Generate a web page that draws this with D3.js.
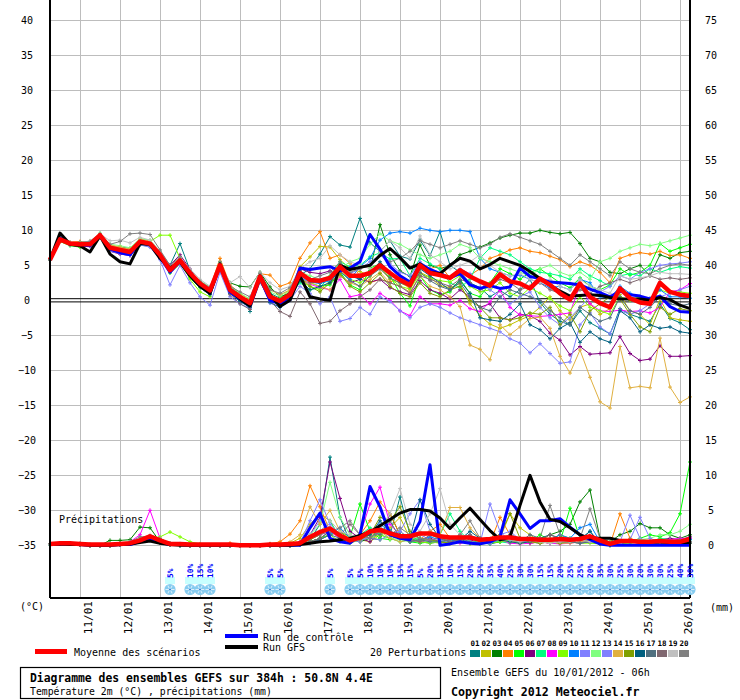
<!DOCTYPE html>
<html>
<head>
<meta charset="utf-8">
<script src="https://cdn.jsdelivr.net/npm/d3@7/dist/d3.min.js"></script>
<style>
body { margin: 0; background: #fff; }
svg text { font-family: "DejaVu Sans Mono", monospace; fill: #000; }
</style>
</head>
<body>
<svg id="chart" width="740" height="700"></svg>
<script>
// run steps : every 6h from 10/01 06h up to +384h
var steps = d3.range(0, 385, 6);
var dateLabels = ["11/01","12/01","13/01","14/01","15/01","16/01","17/01","18/01",
                  "19/01","20/01","21/01","22/01","23/01","24/01","25/01","26/01"];
var tempTicks = [-35,-30,-25,-20,-15,-10,-5,0,5,10,15,20,25,30,35,40];
var precipTicks = [0,5,10,15,20,25,30,35,40,45,50,55,60,65,70,75];

// temperature 2m (°C)
var tMean = [5.8,8.7,8.1,8.0,8.0,9.3,7.5,7.2,6.9,8.4,8.1,6.5,4.3,
  5.7,3.9,2.4,1.4,5.0,1.5,0.5,-0.4,3.4,0.5,-0.1,0.8,3.9,
  2.9,2.8,3.2,4.8,3.5,3.5,3.9,5.0,3.9,2.9,2.2,5.0,3.9,
  3.6,3.2,4.3,3.4,2.7,2.1,3.7,2.7,2.4,1.7,3.1,2.2,1.0,
  0.1,2.4,0.5,-0.4,-1.0,1.7,0.3,-0.3,-0.5,2.5,1.2,0.8,0.6];
var tCtrl = [5.8,8.9,8.0,7.9,7.8,9.2,7.3,6.8,6.5,8.3,8.0,6.2,4.0,
  5.6,3.6,2.0,1.0,4.9,1.2,0.2,-0.8,3.2,0.0,-0.5,0.5,4.6,
  4.4,4.6,4.8,4.2,4.6,5.5,9.4,7.3,4.8,3.5,2.6,5.2,4.4,
  3.8,3.2,3.8,2.2,1.7,2.1,1.7,1.9,4.6,3.4,3.1,2.6,2.5,
  2.4,2.2,1.6,1.1,0.5,1.3,0.8,0.6,0.2,0.6,-0.9,-1.6,-1.7];
var tGfs = [5.8,9.6,8.0,7.8,6.9,9.2,6.6,5.5,5.2,8.1,8.0,6.0,4.6,
  5.5,3.5,2.0,1.0,5.2,1.5,0.2,-0.8,3.5,0.8,-0.9,0.0,3.5,
  0.5,0.2,0.0,5.0,4.4,4.7,5.0,6.4,7.4,6.1,4.6,5.2,4.0,
  3.8,5.0,6.0,5.6,4.5,5.1,6.0,5.5,5.0,4.1,3.1,2.2,1.3,
  0.6,0.7,0.8,0.7,0.4,0.2,0.2,0.2,0.0,0.4,0.1,-0.7,-1.2];

var t01 = [5.9,9.0,8.2,8.1,8.3,9.5,7.8,7.6,7.4,8.6,8.3,7.0,5.0,
  8.1,4.3,2.6,1.6,5.2,1.9,0.9,-1.6,3.6,1.0,0.3,1.2,3.6,
  4.5,6.6,9.1,7.9,7.6,11.7,8.2,7.0,8.5,6.3,5.9,8.6,6.4,
  9.8,5.0,4.0,2.5,1.8,0.5,1.4,0.5,1.5,3.0,-0.3,-2.0,-3.0,
  -3.5,-1.5,-3.2,-4.0,-4.8,-1.2,-2.0,-2.5,-3.0,-0.5,-2.6,-3.2,-4.2];
var t02 = [5.7,8.5,7.9,8.2,8.1,9.0,7.2,7.0,7.0,8.1,7.8,6.3,4.0,
  5.3,3.6,2.0,1.0,4.8,1.8,0.8,-0.2,3.1,0.8,0.2,1.5,4.8,
  6.2,7.7,7.6,5.8,4.5,4.1,3.5,4.6,3.0,2.5,1.8,4.0,3.3,
  2.1,1.8,2.4,-0.5,-2.2,-3.4,-4.0,-3.5,-2.8,-2.2,-1.0,0.5,-1.5,
  -2.8,-1.0,-0.5,-2.0,-1.2,0.8,-1.5,-2.0,-3.5,0.2,-2.5,-2.8,-3.0];
var t03 = [5.8,8.6,8.2,7.8,8.2,9.4,7.6,7.4,7.1,8.5,8.2,6.6,4.5,
  5.8,3.7,2.2,1.3,5.1,2.5,2.0,1.9,4.0,1.9,0.5,1.0,4.2,
  3.1,2.8,3.0,5.2,3.8,3.2,4.2,10.8,6.5,4.2,3.4,7.9,5.0,
  4.5,5.0,6.5,7.0,7.6,8.2,8.9,9.3,9.6,9.6,10.0,9.7,9.5,
  9.7,8.1,6.0,5.5,4.0,3.8,4.5,5.0,3.5,6.5,6.0,6.8,7.0];
var t04 = [5.8,8.8,8.3,8.4,8.2,9.4,7.9,7.5,7.3,8.8,8.5,6.9,4.8,
  6.0,4.1,2.7,1.8,6.0,2.2,1.0,0.0,3.8,3.6,2.0,2.5,6.0,
  8.2,9.8,6.0,6.5,5.3,3.5,2.5,3.0,2.6,3.2,1.5,4.8,4.5,
  5.0,3.2,4.0,3.6,4.5,6.0,6.5,7.2,7.5,7.0,6.8,6.3,5.8,
  4.8,5.5,5.0,4.0,2.5,6.0,6.5,6.8,6.6,7.0,6.4,6.5,6.0];
var t05 = [5.8,8.4,7.8,7.6,7.8,9.0,7.2,6.9,6.5,7.9,7.7,6.1,3.9,
  5.2,3.2,1.8,0.8,4.6,1.2,0.0,-1.0,3.0,0.3,-0.5,0.4,3.8,
  2.5,2.0,2.2,4.0,2.2,1.5,4.6,5.2,3.5,1.0,-0.8,3.5,1.5,
  0.8,1.2,3.0,1.0,0.5,2.5,4.5,3.8,3.0,4.0,4.5,3.5,2.5,
  1.8,3.2,2.0,1.5,2.2,4.5,3.6,4.0,5.0,8.1,7.0,7.5,8.0];
var t06 = [5.8,8.6,8.0,7.9,7.8,9.1,7.0,6.6,6.4,8.0,7.7,6.0,5.0,
  6.5,4.5,2.2,1.2,5.0,1.4,0.4,-0.6,3.2,0.6,0.0,1.0,4.5,
  4.0,3.8,4.2,3.5,2.5,3.0,2.6,3.0,1.8,1.2,0.8,2.8,1.5,
  1.0,0.2,1.5,0.5,-1.0,-0.5,-2.5,-2.8,-2.0,-2.2,-3.0,-4.7,-5.7,
  -7.8,-6.6,-7.7,-7.6,-7.5,-5.2,-7.6,-8.6,-8.4,-6.5,-8.0,-8.0,-7.9];
var t07 = [5.8,8.7,8.0,8.1,8.1,9.3,7.6,7.3,7.0,8.4,8.1,6.6,4.6,
  5.9,4.0,2.5,1.5,5.3,1.6,0.6,-0.3,3.5,0.6,0.0,0.9,2.5,
  1.5,1.8,3.5,5.5,4.8,5.0,6.2,6.8,5.9,6.0,3.5,6.0,5.2,
  4.5,2.5,1.8,3.0,6.0,7.5,7.0,6.5,5.5,4.5,4.0,3.8,3.5,
  3.0,4.5,3.5,2.8,2.0,3.5,3.8,3.5,4.5,4.0,4.5,4.8,4.6];
var t08 = [5.8,8.6,8.0,7.9,7.8,9.2,7.1,6.8,6.6,8.2,7.9,6.3,4.1,
  5.5,3.6,2.0,0.9,4.7,1.1,0.1,-0.8,3.0,0.2,-0.4,0.6,3.2,
  2.3,1.8,1.5,3.0,0.5,0.8,-0.5,1.0,0.0,-1.5,-2.2,0.5,-0.5,
  -0.5,-0.7,0.0,-1.2,-1.6,-0.2,1.4,-1.0,-2.1,-2.2,-2.3,-2.2,-2.0,
  -1.8,2.2,-0.5,-1.5,-1.6,-1.4,-1.6,-1.5,-1.8,-1.0,1.2,1.5,2.4];
var t09 = [5.8,8.5,7.9,7.7,7.9,9.5,7.4,7.0,6.8,8.2,8.4,9.3,9.3,
  6.0,3.0,1.2,0.5,4.8,1.8,0.6,-0.5,3.3,0.4,-0.6,0.5,2.8,
  2.0,1.5,2.8,4.2,3.0,2.5,3.5,4.8,3.2,2.0,1.6,3.8,3.2,
  2.8,2.6,3.5,2.0,1.2,1.5,2.5,1.0,0.5,1.8,1.0,0.2,-0.8,
  -1.5,0.5,-1.0,-1.5,-2.0,0.5,0.0,0.5,-0.5,1.5,1.0,1.2,1.0];
var t10 = [5.8,8.8,8.1,8.0,8.1,9.3,7.6,7.3,7.2,8.5,8.2,6.6,4.4,
  5.7,3.8,2.3,1.2,4.9,1.5,0.4,-0.5,3.3,0.4,-0.3,0.7,3.2,
  2.6,2.4,2.8,4.0,3.0,4.8,6.0,8.6,9.6,9.8,9.6,10.3,10.0,
  9.8,10.0,10.0,9.8,6.0,4.5,4.0,3.5,3.6,3.0,2.5,1.8,2.0,
  1.5,3.0,2.5,0.5,0.3,2.0,1.0,0.5,0.3,1.5,0.5,0.5,0.3];
var t11 = [5.8,8.6,7.9,7.8,7.7,9.0,7.0,6.7,6.4,7.9,7.6,5.8,2.2,
  5.0,2.5,0.5,-0.7,4.0,0.5,-0.5,-1.2,2.8,-0.4,-1.0,0.0,2.0,
  1.0,-0.5,0.5,-3.0,-2.6,-1.0,-2.0,0.5,-0.2,-1.5,-2.5,-1.0,-0.5,
  -1.0,-1.8,-2.5,-3.0,-3.5,-4.0,-4.5,-5.5,-6.1,-7.5,-6.2,-7.6,-9.0,
  -8.8,-3.5,-1.8,-3.8,-4.8,-1.5,-2.0,-1.5,-0.5,0.5,1.0,1.5,2.0];
var t12 = [5.8,8.7,8.2,8.2,8.4,9.6,8.0,7.8,7.5,8.8,8.6,7.0,4.7,
  6.1,4.2,2.8,1.9,5.5,2.0,1.0,0.2,3.8,1.2,0.6,1.5,4.0,
  3.5,3.0,3.5,4.5,5.5,6.0,8.0,9.5,8.5,8.0,7.2,6.5,6.0,
  6.5,7.0,8.0,7.5,6.0,5.5,5.0,4.5,4.0,3.5,4.5,5.0,4.0,
  3.5,4.0,3.0,5.5,6.0,7.0,7.5,8.0,7.8,8.1,8.5,8.9,9.3];
var t13 = [5.8,8.7,8.0,7.9,8.0,9.2,7.3,7.1,6.8,8.3,8.0,6.4,4.2,
  5.6,3.8,2.3,1.3,5.0,1.4,0.3,-0.6,3.3,0.3,-0.3,0.6,3.5,
  2.5,3.0,2.8,4.2,3.8,4.5,5.5,6.5,5.2,4.0,3.5,5.5,4.5,
  4.0,3.2,4.5,3.8,2.5,1.5,0.5,-0.5,0.5,1.2,-1.0,-2.5,-3.5,
  -2.5,-1.0,0.5,1.2,2.0,3.5,3.0,4.0,4.5,5.0,5.2,5.3,5.5];
var t14 = [5.8,8.8,8.2,8.3,8.4,9.4,7.9,7.6,7.3,8.6,8.3,6.8,4.5,
  5.8,4.0,2.5,1.5,5.2,1.7,0.6,-0.3,3.5,1.5,0.8,1.5,3.0,
  2.5,2.0,1.5,3.5,2.5,2.0,3.0,4.0,2.5,2.0,1.2,3.5,2.0,
  1.5,0.5,-0.9,-6.4,-7.0,-8.5,-3.5,-4.9,-3.8,-2.6,-2.4,-4.0,-8.0,
  -10.4,-7.1,-11.0,-14.5,-15.4,-6.6,-12.5,-12.3,-12.5,-5.4,-12.4,-14.6,-13.8];
var t15 = [5.8,8.6,8.0,7.8,7.9,9.1,7.2,6.9,6.6,8.2,7.9,6.3,4.2,
  5.5,3.7,2.2,1.2,4.8,1.3,0.3,-0.6,3.1,0.3,-0.3,0.5,3.3,
  2.0,1.2,2.5,3.8,2.0,1.2,2.5,3.8,2.0,1.0,0.5,2.5,1.0,
  0.5,1.5,2.0,0.0,-1.0,-2.5,-2.5,-2.8,-2.5,-1.8,-2.0,-1.0,-3.5,
  -2.0,-4.5,-1.5,-0.5,0.5,0.2,-2.0,-3.8,-4.5,-1.0,-2.0,-1.2,-1.5];
var t16 = [5.8,8.9,8.1,8.0,8.1,9.3,7.5,7.2,6.9,8.4,8.2,6.7,4.4,
  5.9,3.8,2.0,0.8,4.8,1.0,-0.2,-1.0,3.0,-0.3,-1.0,0.2,2.8,
  1.5,2.0,2.5,4.5,3.5,3.0,4.0,5.5,4.0,3.0,2.0,4.5,3.5,
  2.5,1.5,2.8,1.0,-2.5,-2.8,-3.0,-2.0,-0.5,-3.5,-4.2,-5.5,-4.0,
  -3.2,-6.0,-4.5,-5.5,-6.0,-1.5,-2.5,-4.5,-3.5,-4.0,-3.8,-4.5,-4.7];
var t17 = [5.8,8.7,8.1,7.9,7.9,9.2,7.4,7.1,6.8,8.3,8.0,6.4,4.3,
  5.6,3.8,2.3,1.3,5.0,1.5,0.4,-0.5,3.3,0.4,-0.2,0.7,3.7,
  2.6,2.5,3.0,4.2,2.8,2.0,3.5,4.5,3.2,2.5,2.0,4.0,2.8,
  2.0,1.5,2.5,0.5,-1.0,-1.5,0.5,1.5,1.0,0.5,0.0,-1.5,-2.5,
  -3.5,-1.0,-2.0,-3.0,-2.5,0.5,-1.5,-2.0,-1.0,0.5,-0.5,-0.8,-0.5];
var t18 = [5.8,8.6,8.0,7.9,8.0,9.1,7.3,7.0,6.7,8.3,8.1,6.4,4.2,
  5.6,3.7,2.2,1.2,4.7,0.8,-0.5,-1.3,2.6,0.0,-1.6,-2.3,1.2,
  -0.5,-3.3,-3.0,-1.5,-0.5,0.5,1.5,3.0,2.5,2.0,1.0,3.5,3.0,
  2.5,2.0,3.0,2.5,1.5,2.0,3.0,2.5,1.5,2.0,2.5,1.5,1.0,
  0.5,1.5,1.0,2.0,2.5,3.0,2.5,3.0,3.5,3.0,3.2,3.0,3.2];
var t19 = [5.8,8.8,8.3,8.2,8.5,9.5,8.5,8.6,8.2,9.0,8.6,7.0,4.8,
  6.0,4.5,3.0,2.0,5.2,2.5,3.4,1.8,4.0,2.5,1.5,2.0,4.5,
  5.5,6.0,7.8,6.5,5.5,5.0,4.5,7.0,8.5,7.5,6.0,9.2,6.5,
  5.5,4.5,5.0,5.5,6.5,5.0,4.0,3.5,3.8,3.0,2.5,3.0,2.0,
  1.5,3.0,2.0,1.5,1.0,3.5,3.0,3.2,3.5,4.0,3.8,3.8,3.7];
var t20 = [5.8,8.7,8.2,8.3,8.4,9.5,8.0,8.4,9.5,9.6,9.4,7.2,5.0,
  6.2,4.2,2.7,1.8,5.5,2.0,1.2,0.5,3.8,1.5,1.0,1.8,4.2,
  3.0,3.5,4.0,5.5,4.0,4.5,5.0,6.5,5.5,6.0,7.0,8.5,8.0,
  7.5,8.0,8.5,8.0,7.5,8.0,9.0,9.5,9.0,8.5,8.0,7.0,6.0,
  5.0,6.5,5.5,4.5,3.5,5.5,4.5,4.0,3.8,4.5,5.0,5.2,5.0];

// precipitation (mm / 6h)
var pMean = [0.2,0.3,0.3,0.2,0.1,0.1,0.1,0.2,0.3,0.7,1.3,0.7,0.2,
  0.2,0.1,0.1,0.1,0.1,0.1,0.0,0.0,0.0,0.1,0.1,0.2,0.3,
  1.2,1.9,2.4,1.4,0.7,1.1,2.0,2.2,1.7,1.3,1.3,1.7,1.7,
  1.3,1.1,1.1,1.1,0.8,0.9,1.1,1.1,0.9,0.9,0.8,0.8,0.9,
  0.8,0.9,1.3,0.7,0.2,0.6,0.6,0.5,0.5,0.6,0.5,0.5,0.9];
var pCtrl = [0.1,0.2,0.2,0.1,0,0,0,0.1,0.1,0.5,0.8,0.4,0.1,
  0.1,0,0,0,0,0,0,0,0,0,0,0,0,
  2.5,4.6,1.0,0.5,0.3,1.5,8.4,5.5,1.5,1.0,0.8,3.4,11.5,
  0,0.2,0.5,0.3,0.2,0.5,1.2,6.5,4.5,2.4,3.5,3.5,3.8,
  2.6,1.5,0.8,0.2,0,0,0,0,0,0,0,0,0];
var pGfs = [0.1,0.2,0.1,0.1,0,0,0,0.1,0.2,0.4,0.6,0.3,0.1,
  0,0,0,0,0,0,0,0,0,0,0,0,0.1,
  0.3,0.5,0.6,0.8,1.0,1.4,1.9,2.8,3.7,4.6,5.1,5.1,4.9,
  3.9,2.4,3.9,5.3,3.7,2.1,0.8,1.2,5.7,10.0,6.2,3.7,3.4,
  2.5,1.5,1.0,1.0,1.0,0.7,0.6,0.5,0.5,0.5,0.4,0.4,0.4];

var p01 = [0.2,0.3,0.2,0.2,0,0,0,0.2,0.4,0.8,1.2,0.6,0.2,
  0.1,0,0,0,0,0,0,0,0,0,0,0,0.2,
  0.8,3.0,12.6,4.0,0.5,0.8,1.0,2.0,1.5,6.9,1.5,0.5,0.3,
  0.5,1.0,0.8,0.5,0.3,0.2,0.5,1.0,0.3,0.5,0.8,0.5,0.3,
  0.5,0.8,2.0,0.2,0,0.3,0.5,0.5,0.2,0.5,0.8,0.5,1.0];
var p02 = [0.1,0.2,0.2,0.2,0.1,0,0,0.1,0.3,0.9,1.0,0.8,0.2,
  0.1,0,0,0,0,0,0,0,0,0,0,0.3,1.0,
  3.0,4.5,3.5,1.0,0.5,0.8,0.5,1.5,2.5,4.0,1.0,0.8,0.5,
  0.3,0.8,1.0,0.5,0.3,0.8,1.0,4.5,2.5,1.5,0.5,0.3,0.5,
  0.8,1.0,0.5,0.3,0,0.2,0.5,0.3,0.2,0.5,0.3,0.2,0.5];
var p03 = [0.1,0.2,0.3,0.2,0,0,0.7,0.7,0.8,2.6,2.5,0.5,0.2,
  0.1,0,0,0,0,0,0,0,0,0.2,0.1,0,0.2,
  0.5,1.0,1.5,2.0,0.8,0.5,1.0,0.8,4.5,1.5,1.0,0.5,0.8,
  0.5,1.0,0.5,0.3,0.2,0.3,0.5,0.8,1.0,0.5,0.8,1.5,2.0,
  3.0,6.2,7.9,1.0,0.5,1.5,2.0,3.1,2.5,2.5,1.5,1.0,1.5];
var p04 = [0.2,0.3,0.3,0.2,0,0,0,0.2,0.3,0.6,0.8,0.4,0.1,
  0,0,0,0,0,0.3,0,0,0,0.2,0.5,1.6,3.5,
  8.5,5.5,2.0,1.0,0.5,1.5,3.5,6.2,4.5,1.5,0.5,0.8,2.0,
  3.0,1.0,0.5,1.5,0.5,0.3,4.0,1.5,0.5,0.3,0.5,1.0,0.8,
  0.5,0.3,0.5,0.2,0.1,4.5,1.0,0.5,0.3,0.8,0.5,0.3,0.5];
var p05 = [0.1,0.2,0.2,0.1,0,0,0,0.1,0.2,0.5,0.8,0.5,0.2,
  0,0,0,0,0,0,0,0,0,0,0,0,0.2,
  0.5,1.0,1.5,2.0,1.2,5.9,2.0,1.0,0.8,1.5,0.5,0.3,0.5,
  0.5,0.8,0.5,0.3,0.3,0.5,0.8,0.5,0.3,0.5,1.5,0.8,0.5,
  5.3,1.0,0.5,0.2,0,0.3,0.5,1.0,1.5,1.2,1.8,4.5,11.9];
var p06 = [0.2,0.3,0.2,0.2,0,0,0,0.2,0.3,0.8,1.0,0.5,0.2,
  0.1,0,0,0,0,0,0,0,0,0,0,0.2,0.5,
  1.5,4.0,11.9,6.7,2.0,1.0,0.5,2.0,1.5,1.0,0.5,0.8,1.0,
  0.5,0.3,1.5,0.8,0.3,0.5,0.8,0.5,0.5,0.3,0.5,0.3,0.5,
  0.5,0.3,0.5,0.3,0.2,0.5,0.8,0.5,0.5,0.8,1.0,0.8,1.2];
var p07 = [0.1,0.2,0.2,0.1,0,0,0,0.1,0.3,0.6,0.9,0.5,0.1,
  0,0,0,0,0,0,0,0,0,0,0,0,0.3,
  1.0,2.0,3.5,1.0,0.8,1.5,2.5,1.5,1.0,0.5,0.8,1.0,0.5,
  1.5,4.5,2.0,0.5,0.5,0.8,0.5,0.3,0.5,0.5,1.0,0.8,1.5,
  1.0,0.5,0.5,0.3,0.2,0.5,0.8,0.3,0.5,1.0,0.8,0.5,0.8];
var p08 = [0.2,0.3,0.2,0.2,0,0,0,0.2,0.5,1.5,5.0,1.0,0.2,
  0.1,0,0,0,0,0,0,0,0,0,0,0,0.2,
  0.8,1.5,2.0,1.0,0.5,1.5,5.9,8.3,3.0,1.5,0.8,0.5,0.8,
  1.0,0.5,0.3,0.5,0.3,0.5,0.8,0.3,0.2,0.3,0.5,0.3,0.2,
  0.3,0.5,0.8,0.3,0.1,0.3,0.5,0.3,0.5,0.5,0.8,1.0,1.0];
var p09 = [0.1,0.2,0.2,0.1,0,0,0,0.2,0.3,0.6,1.0,1.2,1.9,
  1.2,0.5,0.2,0,0,0,0,0,0,0,0,0,0.2,
  0.5,1.0,1.5,0.5,0.3,0.8,1.0,1.5,1.0,2.0,0.8,0.5,0.3,
  0.5,0.3,0.5,0.3,0.2,0.3,0.5,0.8,0.3,0.5,0.8,0.5,0.3,
  0.5,0.3,0.3,0.2,0.1,0.2,0.3,0.5,0.5,0.8,0.5,0.3,0.5];
var p10 = [0.1,0.2,0.2,0.1,0,0,0,0.1,0.2,0.7,0.8,0.4,0.1,
  0,0,0,0,0,0,0,0,0,0,0,0,0.1,
  0.3,0.8,1.5,2.5,1.0,0.8,1.5,3.0,2.0,1.0,0.5,0.8,1.2,
  0.8,0.5,1.0,1.5,0.5,0.3,0.8,1.0,0.5,0.5,0.3,0.8,1.5,
  1.0,2.5,3.0,0.5,0.2,0.3,0.5,0.5,0.3,0.5,0.3,0.5,0.8];
var p11 = [0.1,0.2,0.2,0.1,0,0,0,0.1,0.2,0.8,1.2,0.5,0.2,
  0,0,0,0,0,0,0,0,0,0,0,0,0.2,
  1.5,3.5,2.5,1.0,0.5,0.8,1.0,0.8,1.5,2.0,1.0,1.5,0.8,
  0.5,0.8,1.0,0.5,0.3,5.9,2.0,0.5,0.3,0.5,0.8,0.3,0.5,
  0.5,0.8,0.5,0.3,0.2,0.5,4.3,1.0,0.5,0.3,0.5,0.3,0.5];
var p12 = [0.2,0.3,0.3,0.2,0,0,0,0.2,0.3,0.8,1.2,0.6,0.2,
  0.1,0,0,0,0,0,0,0,0,0,0,0,0.3,
  1.5,3.0,9.0,4.0,1.5,1.0,1.5,2.0,1.0,0.8,0.5,0.8,0.5,
  0.5,1.0,0.5,0.3,0.5,0.5,0.8,0.5,0.3,0.5,0.8,0.5,0.8,
  1.0,0.8,0.5,0.5,0.3,0.5,0.5,0.8,1.0,1.5,1.5,2.0,3.0];
var p13 = [0.1,0.2,0.2,0.1,0,0,0,0.1,0.3,0.7,1.0,0.5,0.1,
  0,0,0,0,0,0,0,0,0,0,0,0,0.3,
  3.5,6.5,3.0,1.5,0.8,0.5,1.5,2.5,1.5,2.0,4.5,6.5,2.0,
  0.8,0.5,0.8,1.0,0.5,0.3,1.5,2.0,0.8,0.5,0.3,0.5,0.8,
  0.5,0.3,0.5,0.3,0.2,0.5,0.8,4.0,1.0,0.5,0.3,0.5,0.3];
var p14 = [0.2,0.3,0.3,0.2,0,0,0,0.2,0.4,1.0,1.3,0.7,0.2,
  0.1,0,0,0,0,0,0,0,0,0,0.1,0.5,1.5,
  5.5,3.0,5.0,2.0,1.0,0.8,1.5,2.0,1.0,0.5,0.8,1.5,2.0,
  1.5,5.4,5.4,2.5,1.0,0.5,0.8,0.5,0.3,0.5,0.3,0.5,0.3,
  0.3,0.5,0.8,0.3,0.2,0.5,0.5,0.3,0.5,0.3,0.5,0.3,0.5];
var p15 = [0.1,0.2,0.2,0.1,0,0,0,0.2,0.3,0.6,0.9,0.4,0.1,
  0,0,0,0,0,0,0,0,0,0,0,0,0.2,
  0.8,1.5,2.5,1.5,1.0,0.8,1.5,4.0,3.5,5.5,2.0,1.0,0.8,
  0.5,0.3,0.5,0.3,0.5,0.8,1.5,4.5,1.0,0.5,0.3,0.5,0.3,
  0.5,0.8,0.5,0.2,0.1,0.3,0.5,0.5,0.3,0.2,0.3,0.5,0.3];
var p16 = [0.1,0.2,0.2,0.1,0,0,0,0.1,0.2,0.6,0.8,0.4,0.1,
  0,0,0,0,0,0,0,0,0,0,0,0,0.1,
  0.5,1.0,2.0,1.5,0.8,1.0,1.5,3.5,2.0,1.5,1.0,6.5,3.0,
  1.0,0.5,0.8,2.0,1.0,0.5,0.8,0.5,0.3,0.5,1.0,1.5,1.0,
  0.5,0.8,2.0,0.3,0.1,0.3,0.5,0.3,0.2,0.3,0.5,0.3,0.5];
var p17 = [0.1,0.2,0.2,0.1,0,0,0,0.1,0.2,0.5,0.9,0.5,0.1,
  0,0,0,0,0,0,0,0,0,0,0,0,0.1,
  0.5,0.8,1.5,1.0,0.5,1.0,2.0,1.5,3.5,1.0,0.5,0.8,0.5,
  0.5,0.8,1.0,0.5,0.3,0.5,1.0,0.8,0.5,1.5,1.0,0.8,0.5,
  0.5,0.3,0.5,0.3,0.1,0.3,0.5,0.5,0.3,0.5,0.5,0.3,0.3];
var p18 = [0.2,0.2,0.2,0.1,0,0,0,0.1,0.3,0.8,1.0,0.5,0.2,
  0.1,0,0,0,0,0,0,0,0,0,0,0,0.2,
  0.5,1.0,2.0,1.5,3.0,1.5,1.0,2.5,2.0,1.0,0.8,0.5,1.5,
  1.0,0.5,0.8,1.5,0.8,0.5,1.0,1.5,1.0,0.5,0.8,1.5,1.0,
  0.5,0.8,0.5,0.3,0.2,0.5,0.8,0.5,0.3,0.5,0.5,0.8,0.5];
var p19 = [0.1,0.3,0.3,0.2,0,0,0,0.2,0.5,1.0,1.5,1.0,0.3,
  0.2,0.1,0,0,0,0,0,0,0,0,0,0,0.3,
  1.5,2.0,3.5,2.0,1.5,1.0,2.0,2.5,4.5,8.1,3.0,2.0,4.5,
  8.1,3.0,1.5,1.0,0.8,0.5,1.0,0.8,0.5,0.8,0.5,0.3,0.5,
  0.5,0.8,0.5,0.3,0.2,0.3,0.5,0.5,0.3,0.5,0.5,0.3,0.5];
var p20 = [0.2,0.3,0.3,0.2,0.1,0,0,0.2,0.5,1.2,1.3,1.0,0.3,
  0.2,0.1,0,0,0,0,0,0,0,0,0,0,0.3,
  1.0,1.5,2.0,2.5,3.5,1.5,1.0,2.0,1.5,2.5,1.5,1.0,0.8,
  1.0,0.8,1.5,3.5,1.0,0.5,0.8,1.5,1.0,0.8,1.0,5.7,1.5,
  0.8,1.0,5.2,1.0,0.3,0.5,0.8,0.5,0.3,0.5,0.5,0.8,0.5];

// snow probability (step index, %)
var snowSteps = [12,14,15,16,22,23,28,
  30,31,32,33,34,35,36,37,38,39,40,41,42,43,44,45,46,
  47,48,49,50,51,52,53,54,55,56,57,58,59,60,61,62,63,64];
var snowPct = [5,10,15,10,5,5,5,
  5,5,10,10,10,15,15,5,20,15,10,15,20,25,35,40,25,
  30,30,15,15,20,25,25,20,35,30,25,30,20,30,30,25,40,30];

var memberNames = ["01","02","03","04","05","06","07","08","09","10",
                   "11","12","13","14","15","16","17","18","19","20"];
var memberColors = ["#008080","#c0c000","#008000","#ff8000","#00ff00","#800080","#00ff80",
  "#ff00ff","#80ff00","#0080ff","#8080ff","#80ff80","#8080ff","#e0b040","#80a000",
  "#006080","#507080","#806870","#c0c0c0","#808080"];
var tMembers = [t01,t02,t03,t04,t05,t06,t07,t08,t09,t10,t11,t12,t13,t14,t15,t16,t17,t18,t19,t20];
var pMembers = [p01,p02,p03,p04,p05,p06,p07,p08,p09,p10,p11,p12,p13,p14,p15,p16,p17,p18,p19,p20];

var left = 50, right = 690, bottom = 598;
var svg = d3.select("#chart");

var x = d3.scaleLinear().domain([0, 384]).range([left, right]);
var y = d3.scaleLinear().domain([-35, 40]).range([545.3, 20.3]);
var yP = d3.scaleLinear().domain([0, 75]).range([545.3, 20.3]);

// grid
var grid = svg.append("g").attr("stroke", "#bdbdbd").attr("stroke-width", 1).attr("shape-rendering", "crispEdges");
grid.selectAll(".hg").data(tempTicks.filter(function(d){ return d !== 0; })).enter().append("line")
  .attr("x1", left).attr("x2", right)
  .attr("y1", function(d){ return Math.round(y(d)) + 0.5; })
  .attr("y2", function(d){ return Math.round(y(d)) + 0.5; });
var dateHours = dateLabels.map(function(d, i){ return 18 + 24 * i; });
grid.selectAll(".vg").data(dateHours).enter().append("line")
  .attr("y1", 0).attr("y2", bottom)
  .attr("x1", function(d){ return Math.round(x(d)) + 0.5; })
  .attr("x2", function(d){ return Math.round(x(d)) + 0.5; });

// 0°C double line
[-1.6, 1.6].forEach(function(o){
  svg.append("line").attr("x1", left).attr("x2", right)
    .attr("y1", y(0) + o).attr("y2", y(0) + o)
    .attr("stroke", "#000").attr("stroke-width", 1);
});

svg.append("text").attr("x", 59).attr("y", 523).attr("font-size", "10px").text("Précipitations");

var tLine = d3.line().x(function(d, i){ return x(steps[i]); }).y(function(d){ return y(d); });
var pLine = d3.line().x(function(d, i){ return x(steps[i]); }).y(function(d){ return yP(d); });

function drawMember(data, scale, gen, color) {
  var g = svg.append("g");
  g.append("path").attr("d", gen(data)).attr("fill", "none")
    .attr("stroke", color).attr("stroke-width", 1);
  g.selectAll("path.m").data(data).enter().append("path").attr("class", "m")
    .attr("d", function(d, i){ return "M" + (x(steps[i]) - 2) + "," + scale(d) + "h4M" + x(steps[i]) + "," + (scale(d) - 2) + "v4"; })
    .attr("stroke", color).attr("stroke-width", 1);
}

tMembers.forEach(function(s, k){ drawMember(s, y, tLine, memberColors[k]); });
pMembers.forEach(function(s, k){ drawMember(s, yP, pLine, memberColors[k]); });

function drawMain(data, gen, color, w) {
  svg.append("path").attr("d", gen(data)).attr("fill", "none")
    .attr("stroke", color).attr("stroke-width", w).attr("stroke-linejoin", "round");
}
drawMain(tCtrl, tLine, "#0000ff", 3);
drawMain(pCtrl, pLine, "#0000ff", 3);
drawMain(tGfs, tLine, "#000000", 3);
drawMain(pGfs, pLine, "#000000", 3);
drawMain(tMean, tLine, "#ff0000", 4.5);
drawMain(pMean, pLine, "#ff0000", 4.5);

// frame
var frame = svg.append("g").attr("stroke", "#000").attr("stroke-width", 1.2).attr("shape-rendering", "crispEdges");
frame.append("line").attr("x1", left).attr("x2", left).attr("y1", 0).attr("y2", bottom);
frame.append("line").attr("x1", right).attr("x2", right).attr("y1", 0).attr("y2", bottom);
frame.append("line").attr("x1", left).attr("x2", right).attr("y1", bottom).attr("y2", bottom);

// axes
var axL = svg.append("g").attr("transform", "translate(27,0)")
  .call(d3.axisLeft(y).tickValues(tempTicks).tickSize(0).tickPadding(0));
axL.select(".domain").remove();
axL.selectAll("text").attr("x", 0).attr("text-anchor", "middle")
  .style("font-family", "DejaVu Sans Mono").style("font-size", "10px").style("fill", "#000");

var axR = svg.append("g").attr("transform", "translate(711,0)")
  .call(d3.axisRight(yP).tickValues(precipTicks).tickSize(0).tickPadding(0));
axR.select(".domain").remove();
axR.selectAll("text").attr("x", 0).attr("text-anchor", "middle")
  .style("font-family", "DejaVu Sans Mono").style("font-size", "10px").style("fill", "#000");

var axB = svg.append("g").attr("transform", "translate(0," + bottom + ")")
  .call(d3.axisBottom(x).tickValues(dateHours).tickSize(0)
    .tickFormat(function(d, i){ return dateLabels[i]; }));
axB.select(".domain").remove();
axB.selectAll("text").attr("y", 0).attr("dy", 0)
  .attr("transform", "translate(11,3) rotate(-90)").attr("text-anchor", "end")
  .style("font-family", "DejaVu Sans Mono").style("font-size", "11px").style("fill", "#000");

svg.append("text").attr("x", 20).attr("y", 610).attr("font-size", "10px").style("fill", "#000").text("(°C)");
svg.append("text").attr("x", 710).attr("y", 611).attr("font-size", "10px").style("fill", "#000").text("(mm)");

// snow probability
var snow = svg.append("g").selectAll("g").data(snowSteps).enter().append("g")
  .attr("transform", function(d){ return "translate(" + x(steps[d]) + ",0)"; });
snow.append("rect").attr("x", -5).attr("width", 10).attr("y", 577).attr("height", 7).attr("fill", "#c8ffff");
snow.append("circle").attr("cy", 589.5).attr("r", 5.6).attr("fill", "#86ccf0");
[0, 60, 120].forEach(function(a){
  snow.append("line").attr("x1", -4.5).attr("x2", 4.5).attr("y1", 0).attr("y2", 0)
    .attr("transform", "translate(0,589.5) rotate(" + a + ")")
    .attr("stroke", "#ffffff").attr("stroke-width", 0.9).attr("opacity", 0.8);
});
snow.append("circle").attr("cy", 589.5).attr("r", 1.1).attr("fill", "#3a88d8");
snow.append("text").attr("transform", "translate(3,578) rotate(-90)")
  .attr("font-size", "7.8px").attr("font-weight", "bold").style("fill", "#0000ff")
  .text(function(d, i){ return snowPct[i] + "%"; });

// legend
svg.append("rect").attr("x", 225).attr("y", 634).attr("width", 33).attr("height", 4).attr("fill", "#0000ff");
svg.append("text").attr("x", 263).attr("y", 641).attr("font-size", "10px").text("Run de contrôle");
svg.append("rect").attr("x", 225).attr("y", 645).attr("width", 33).attr("height", 4).attr("fill", "#000");
svg.append("text").attr("x", 263).attr("y", 651).attr("font-size", "10px").text("Run GFS");
svg.append("rect").attr("x", 35).attr("y", 649).attr("width", 32).attr("height", 5).attr("fill", "#ff0000");
svg.append("text").attr("x", 74).attr("y", 656).attr("font-size", "10px").text("Moyenne des scénarios");
svg.append("text").attr("x", 370).attr("y", 656).attr("font-size", "10px").text("20 Perturbations");

var leg = svg.append("g").selectAll("g").data(memberNames).enter().append("g")
  .attr("transform", function(d, i){ return "translate(" + (470 + 11 * i) + ",0)"; });
leg.append("rect").attr("y", 650).attr("width", 10).attr("height", 7)
  .attr("fill", function(d, i){ return memberColors[i]; });
leg.append("text").attr("x", 5).attr("y", 646).attr("text-anchor", "middle")
  .attr("font-size", "7.5px").attr("font-weight", "bold").text(function(d){ return d; });

// title box
svg.append("rect").attr("x", 20.5).attr("y", 667.5).attr("width", 420).attr("height", 31)
  .attr("fill", "none").attr("stroke", "#000").attr("stroke-width", 1.2);
svg.append("text").attr("x", 30).attr("y", 682).attr("font-size", "11.4px").attr("font-weight", "bold")
  .text("Diagramme des ensembles GEFS sur 384h : 50.8N 4.4E");
svg.append("text").attr("x", 30).attr("y", 695).attr("font-size", "9.8px")
  .text("Température 2m (°C) , précipitations (mm)");
svg.append("text").attr("x", 451).attr("y", 676).attr("font-size", "10px")
  .text("Ensemble GEFS du 10/01/2012 - 06h");
svg.append("text").attr("x", 451).attr("y", 696).attr("font-size", "11.6px").attr("font-weight", "bold")
  .text("Copyright 2012 Meteociel.fr");
</script>
</body>
</html>
